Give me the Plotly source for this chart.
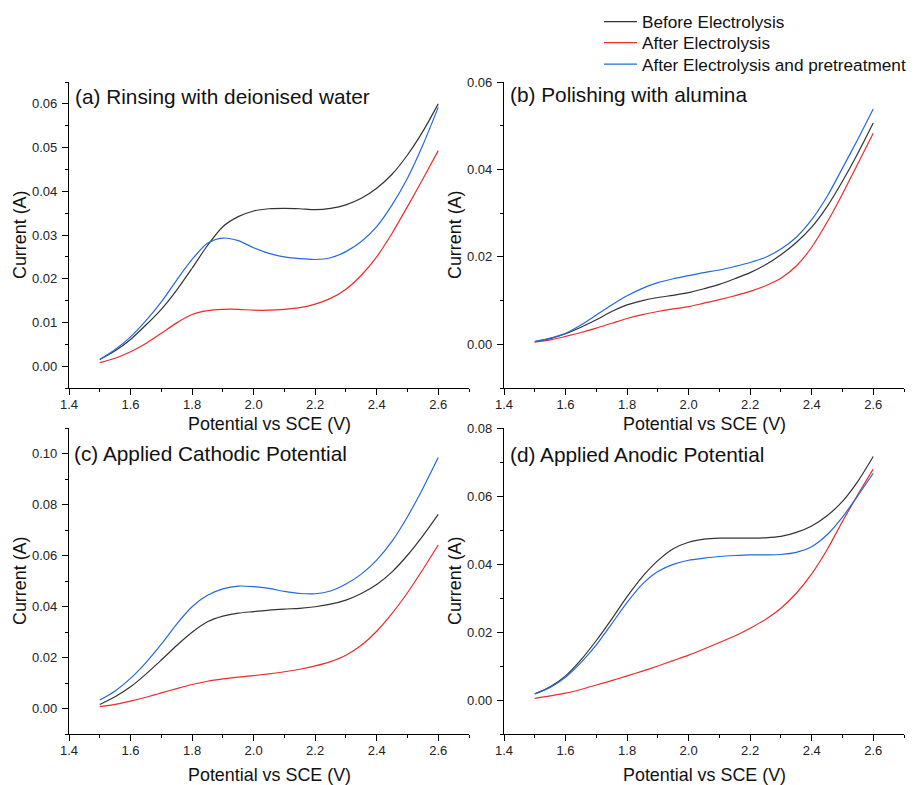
import plotly.graph_objects as go

potential = [1.50, 1.55, 1.60, 1.65, 1.70, 1.75, 1.80, 1.85, 1.90, 1.95, 2.00, 2.05,
             2.10, 2.15, 2.20, 2.25, 2.30, 2.35, 2.40, 2.45, 2.50, 2.55, 2.60]

# (a) Rinsing with deionised water
a_before = [0.0015, 0.0035, 0.0061, 0.0094, 0.0130, 0.0174, 0.0224, 0.0276, 0.0319, 0.0342, 0.0355, 0.0360,
            0.0361, 0.0360, 0.0358, 0.0361, 0.0369, 0.0384, 0.0407, 0.0439, 0.0483, 0.0537, 0.0600]
a_after = [0.0008, 0.0018, 0.0033, 0.0052, 0.0075, 0.0099, 0.0118, 0.0127, 0.0130, 0.0130, 0.0128, 0.0128,
           0.0130, 0.0134, 0.0142, 0.0155, 0.0176, 0.0208, 0.0250, 0.0304, 0.0365, 0.0428, 0.0493]
a_pretreat = [0.0015, 0.0038, 0.0067, 0.0104, 0.0147, 0.0197, 0.0244, 0.0281, 0.0293, 0.0287, 0.0271, 0.0258,
              0.0250, 0.0246, 0.0244, 0.0248, 0.0262, 0.0285, 0.0319, 0.0369, 0.0430, 0.0506, 0.0592]

# (b) Polishing with alumina
b_before = [0.0006, 0.0013, 0.0024, 0.0039, 0.0056, 0.0075, 0.0090, 0.0100, 0.0107, 0.0112, 0.0118, 0.0127,
            0.0137, 0.0150, 0.0164, 0.0182, 0.0205, 0.0233, 0.0268, 0.0315, 0.0373, 0.0437, 0.0506]
b_after = [0.0005, 0.0010, 0.0018, 0.0027, 0.0037, 0.0048, 0.0059, 0.0068, 0.0075, 0.0081, 0.0086, 0.0094,
           0.0102, 0.0111, 0.0121, 0.0134, 0.0151, 0.0179, 0.0222, 0.0279, 0.0344, 0.0413, 0.0483]
b_pretreat = [0.0006, 0.0014, 0.0025, 0.0044, 0.0067, 0.0090, 0.0111, 0.0128, 0.0141, 0.0150, 0.0157, 0.0164,
              0.0170, 0.0178, 0.0187, 0.0199, 0.0218, 0.0245, 0.0285, 0.0338, 0.0403, 0.0469, 0.0538]

# (c) Applied Cathodic Potential
c_before = [0.0016, 0.0046, 0.0085, 0.0135, 0.0190, 0.0247, 0.0299, 0.0340, 0.0362, 0.0374, 0.0380, 0.0386,
            0.0390, 0.0393, 0.0399, 0.0409, 0.0425, 0.0451, 0.0486, 0.0536, 0.0601, 0.0677, 0.0761]
c_after = [0.0007, 0.0016, 0.0029, 0.0044, 0.0061, 0.0078, 0.0094, 0.0107, 0.0116, 0.0123, 0.0129, 0.0136,
           0.0144, 0.0154, 0.0167, 0.0184, 0.0209, 0.0248, 0.0303, 0.0373, 0.0454, 0.0545, 0.0641]
c_pretreat = [0.0033, 0.0069, 0.0118, 0.0180, 0.0252, 0.0331, 0.0399, 0.0444, 0.0469, 0.0480, 0.0478, 0.0471,
              0.0459, 0.0451, 0.0450, 0.0461, 0.0488, 0.0527, 0.0582, 0.0656, 0.0752, 0.0863, 0.0984]

# (d) Applied Anodic Potential
d_before = [0.0018, 0.0039, 0.0071, 0.0118, 0.0175, 0.0238, 0.0304, 0.0363, 0.0410, 0.0445, 0.0464, 0.0473,
            0.0476, 0.0476, 0.0476, 0.0477, 0.0481, 0.0493, 0.0512, 0.0542, 0.0584, 0.0643, 0.0716]
d_after = [0.0005, 0.0012, 0.0020, 0.0031, 0.0044, 0.0057, 0.0071, 0.0085, 0.0100, 0.0116, 0.0132, 0.0150,
           0.0169, 0.0188, 0.0211, 0.0237, 0.0270, 0.0314, 0.0371, 0.0442, 0.0525, 0.0604, 0.0679]
d_pretreat = [0.0018, 0.0037, 0.0067, 0.0110, 0.0162, 0.0224, 0.0287, 0.0341, 0.0378, 0.0399, 0.0411, 0.0417,
              0.0422, 0.0425, 0.0427, 0.0427, 0.0428, 0.0434, 0.0451, 0.0486, 0.0538, 0.0601, 0.0667]

series_names = ["Before Electrolysis", "After Electrolysis", "After Electrolysis and pretreatment"]
series_colors = ["#333333", "#ee2a2a", "#2468e0"]

panel_titles = ["(a) Rinsing with deionised water", "(b) Polishing with alumina",
                "(c) Applied Cathodic Potential", "(d) Applied Anodic Potential"]
x_title = "Potential vs SCE (V)"
y_title = "Current (A)"

panels = [
    (a_before, a_after, a_pretreat),
    (b_before, b_after, b_pretreat),
    (c_before, c_after, c_pretreat),
    (d_before, d_after, d_pretreat),
]

W, H = 920, 785
FONT = "Liberation Sans, Arial, sans-serif"

# pixel boxes (left, right, top, bottom)
boxes = [(69, 469, 82, 388), (504, 904, 82, 388), (69, 469, 428, 734), (504, 904, 428, 734)]
y_ranges = [[-0.005, 0.065], [-0.01, 0.06], [-0.01, 0.11], [-0.01, 0.08]]
y_dticks = [0.01, 0.02, 0.02, 0.02]
y_minor = [0.005, 0.01, 0.01, 0.01]

legend_keys = ["legend", "legend2", "legend3"]
legend_tops = [4, 25, 46.5]

fig = go.Figure()
for i, data in enumerate(panels):
    xa = "x" if i == 0 else f"x{i+1}"
    ya = "y" if i == 0 else f"y{i+1}"
    for j, vals in enumerate(data):
        fig.add_trace(go.Scatter(
            x=potential, y=vals, mode="lines", xaxis=xa, yaxis=ya,
            name=series_names[j], showlegend=(i == 0), legend=legend_keys[j],
            line=dict(color=series_colors[j], width=1.2, shape="spline", smoothing=0.8),
        ))

layout = dict(
    width=W, height=H, margin=dict(l=0, r=0, t=0, b=0, autoexpand=False),
    paper_bgcolor="white", plot_bgcolor="white",
    font=dict(family=FONT, color="#111111"),
)
for k, top in zip(legend_keys, legend_tops):
    layout[k] = dict(x=599 / W, y=1 - top / H, xanchor="left", yanchor="top",
                     font=dict(size=17.2, family=FONT, color="#111111"),
                     bgcolor="rgba(0,0,0,0)", borderwidth=0, itemwidth=33)

annotations = []
for i, (l, r, t, b) in enumerate(boxes):
    xkey = "xaxis" if i == 0 else f"xaxis{i+1}"
    ykey = "yaxis" if i == 0 else f"yaxis{i+1}"
    xa = "x" if i == 0 else f"x{i+1}"
    ya = "y" if i == 0 else f"y{i+1}"
    layout[xkey] = dict(
        domain=[l / W, r / W], anchor=ya, range=[1.4, 2.7], automargin=False,
        tick0=1.4, dtick=0.2, tickformat=".1f",
        ticks="outside", ticklen=6, tickwidth=1.2, tickcolor="black", ticklabelstandoff=-2,
        showline=True, linecolor="black", linewidth=1.3, showgrid=False, zeroline=False,
        tickfont=dict(size=13, family=FONT, color="#222222"),
        minor=dict(dtick=0.1, tick0=1.4, ticks="outside", ticklen=3, tickwidth=1.2, tickcolor="black", showgrid=False),
    )
    layout[ykey] = dict(
        domain=[1 - b / H, 1 - t / H], anchor=xa, range=y_ranges[i], automargin=False,
        tick0=0, dtick=y_dticks[i], tickformat=".2f",
        ticks="outside", ticklen=6, tickwidth=1.2, tickcolor="black", ticklabelstandoff=2,
        showline=True, linecolor="black", linewidth=1.3, showgrid=False, zeroline=False,
        tickfont=dict(size=13, family=FONT, color="#222222"),
        minor=dict(dtick=y_minor[i], tick0=0, ticks="outside", ticklen=3, tickwidth=1.2, tickcolor="black", showgrid=False),
    )

title_pos = [(73, 97), (508, 95), (72, 453), (508, 454)]
for i, (tx, ty) in enumerate(title_pos):
    annotations.append(dict(text=panel_titles[i], x=tx / W, y=1 - ty / H, xref="paper", yref="paper",
                            xanchor="left", yanchor="middle", showarrow=False,
                            font=dict(size=20.8, family=FONT, color="#111111")))

xt_pos = [(269, 424), (704, 424), (269, 775), (704, 775)]
yt_pos = [(20, 235), (455, 235), (20, 581), (455, 581)]
for i in range(4):
    annotations.append(dict(text=x_title, x=xt_pos[i][0] / W, y=1 - xt_pos[i][1] / H, xref="paper", yref="paper",
                            xanchor="center", yanchor="middle", showarrow=False,
                            font=dict(size=17.9, family=FONT, color="#111111")))
    annotations.append(dict(text=y_title, x=yt_pos[i][0] / W, y=1 - yt_pos[i][1] / H, xref="paper", yref="paper",
                            xanchor="center", yanchor="middle", showarrow=False, textangle=-90,
                            font=dict(size=17.9, family=FONT, color="#111111")))

layout["annotations"] = annotations
fig.update_layout(**layout)
fig.write_html("out.html")
